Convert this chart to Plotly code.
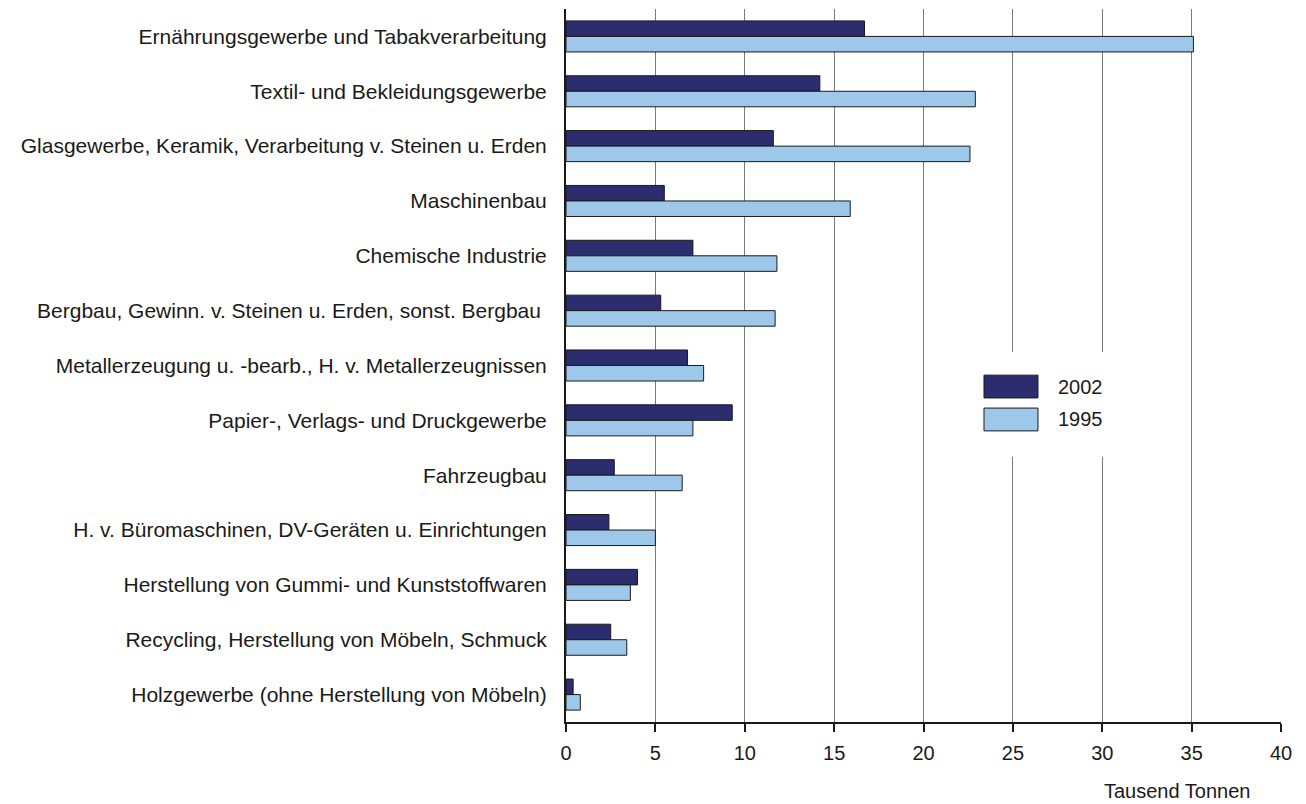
import plotly.graph_objects as go

categories = [
    "Ernährungsgewerbe und Tabakverarbeitung",
    "Textil- und Bekleidungsgewerbe",
    "Glasgewerbe, Keramik, Verarbeitung v. Steinen u. Erden",
    "Maschinenbau",
    "Chemische Industrie",
    "Bergbau, Gewinn. v. Steinen u. Erden, sonst. Bergbau ",
    "Metallerzeugung u. -bearb., H. v. Metallerzeugnissen",
    "Papier-, Verlags- und Druckgewerbe",
    "Fahrzeugbau",
    "H. v. Büromaschinen, DV-Geräten u. Einrichtungen",
    "Herstellung von Gummi- und Kunststoffwaren",
    "Recycling, Herstellung von Möbeln, Schmuck",
    "Holzgewerbe (ohne Herstellung von Möbeln)",
]
values_2002 = [16.7, 14.2, 11.6, 5.5, 7.1, 5.3, 6.8, 9.3, 2.7, 2.4, 4.0, 2.5, 0.4]
values_1995 = [35.1, 22.9, 22.6, 15.9, 11.8, 11.7, 7.7, 7.1, 6.5, 5.0, 3.6, 3.4, 0.8]
series_names = ["2002", "1995"]
x_ticks = [0, 5, 10, 15, 20, 25, 30, 35, 40]
x_unit = "Tausend Tonnen"

col_2002 = "#2b2d6e"
col_1995 = "#9ec8ea"
font_family = "Liberation Sans, Arial, sans-serif"
text_col = "#1a1a1a"
fsize = 21

fig = go.Figure()
fig.add_trace(go.Bar(
    y=categories, x=values_2002, name=series_names[0], orientation="h",
    marker=dict(color=col_2002, line=dict(color="#1a1a1a", width=1)),
))
fig.add_trace(go.Bar(
    y=categories, x=values_1995, name=series_names[1], orientation="h",
    marker=dict(color=col_1995, line=dict(color="#1a1a1a", width=1)),
))

# custom legend (white box with large swatches)
shapes = [
    dict(type="rect", xref="paper", yref="paper", x0=0.572, x1=0.775, y0=0.372, y1=0.519,
         fillcolor="white", line=dict(width=0), layer="above"),
]
legend_rows = [(series_names[0], col_2002, 0.4705), (series_names[1], col_1995, 0.4243)]
annotations = []
for name, col, yc in legend_rows:
    shapes.append(dict(type="rect", xref="paper", yref="paper",
                       x0=0.5846, x1=0.6601, y0=yc - 0.016, y1=yc + 0.016,
                       fillcolor=col, line=dict(color="#1a1a1a", width=1), layer="above"))
    annotations.append(dict(xref="paper", yref="paper", x=0.686, y=yc, text=name,
                            showarrow=False, xanchor="left", yanchor="middle",
                            font=dict(size=fsize - 1, family=font_family, color=text_col)))

annotations.append(dict(xref="paper", yref="paper", x=0.960, y=-0.097, text=x_unit,
                        showarrow=False, xanchor="right", yanchor="middle",
                        font=dict(size=fsize - 1, family=font_family, color=text_col)))

fig.update_layout(
    width=1306, height=804,
    margin=dict(l=566, r=25, t=9, b=82, autoexpand=False),
    paper_bgcolor="white", plot_bgcolor="white",
    barmode="group", bargap=0.434, bargroupgap=0,
    showlegend=False,
    font=dict(family=font_family, size=fsize, color=text_col),
    shapes=shapes, annotations=annotations,
    xaxis=dict(range=[0, 40], tickvals=x_ticks, showgrid=True, gridcolor="#7a7a7a", gridwidth=1,
               zeroline=False, showline=True, linecolor="#1a1a1a", linewidth=2,
               ticks="outside", ticklen=8, tickwidth=2, tickcolor="#1a1a1a",
               tickfont=dict(size=fsize - 1),
               ticklabelstandoff=4, fixedrange=True),
    yaxis=dict(autorange="reversed", showgrid=False, showline=True, linecolor="#1a1a1a",
               linewidth=2, ticks="", ticklabelstandoff=13),
)

fig.write_html("out.html", config={"displayModeBar": False},
               post_script="document.body.style.margin='0';")
